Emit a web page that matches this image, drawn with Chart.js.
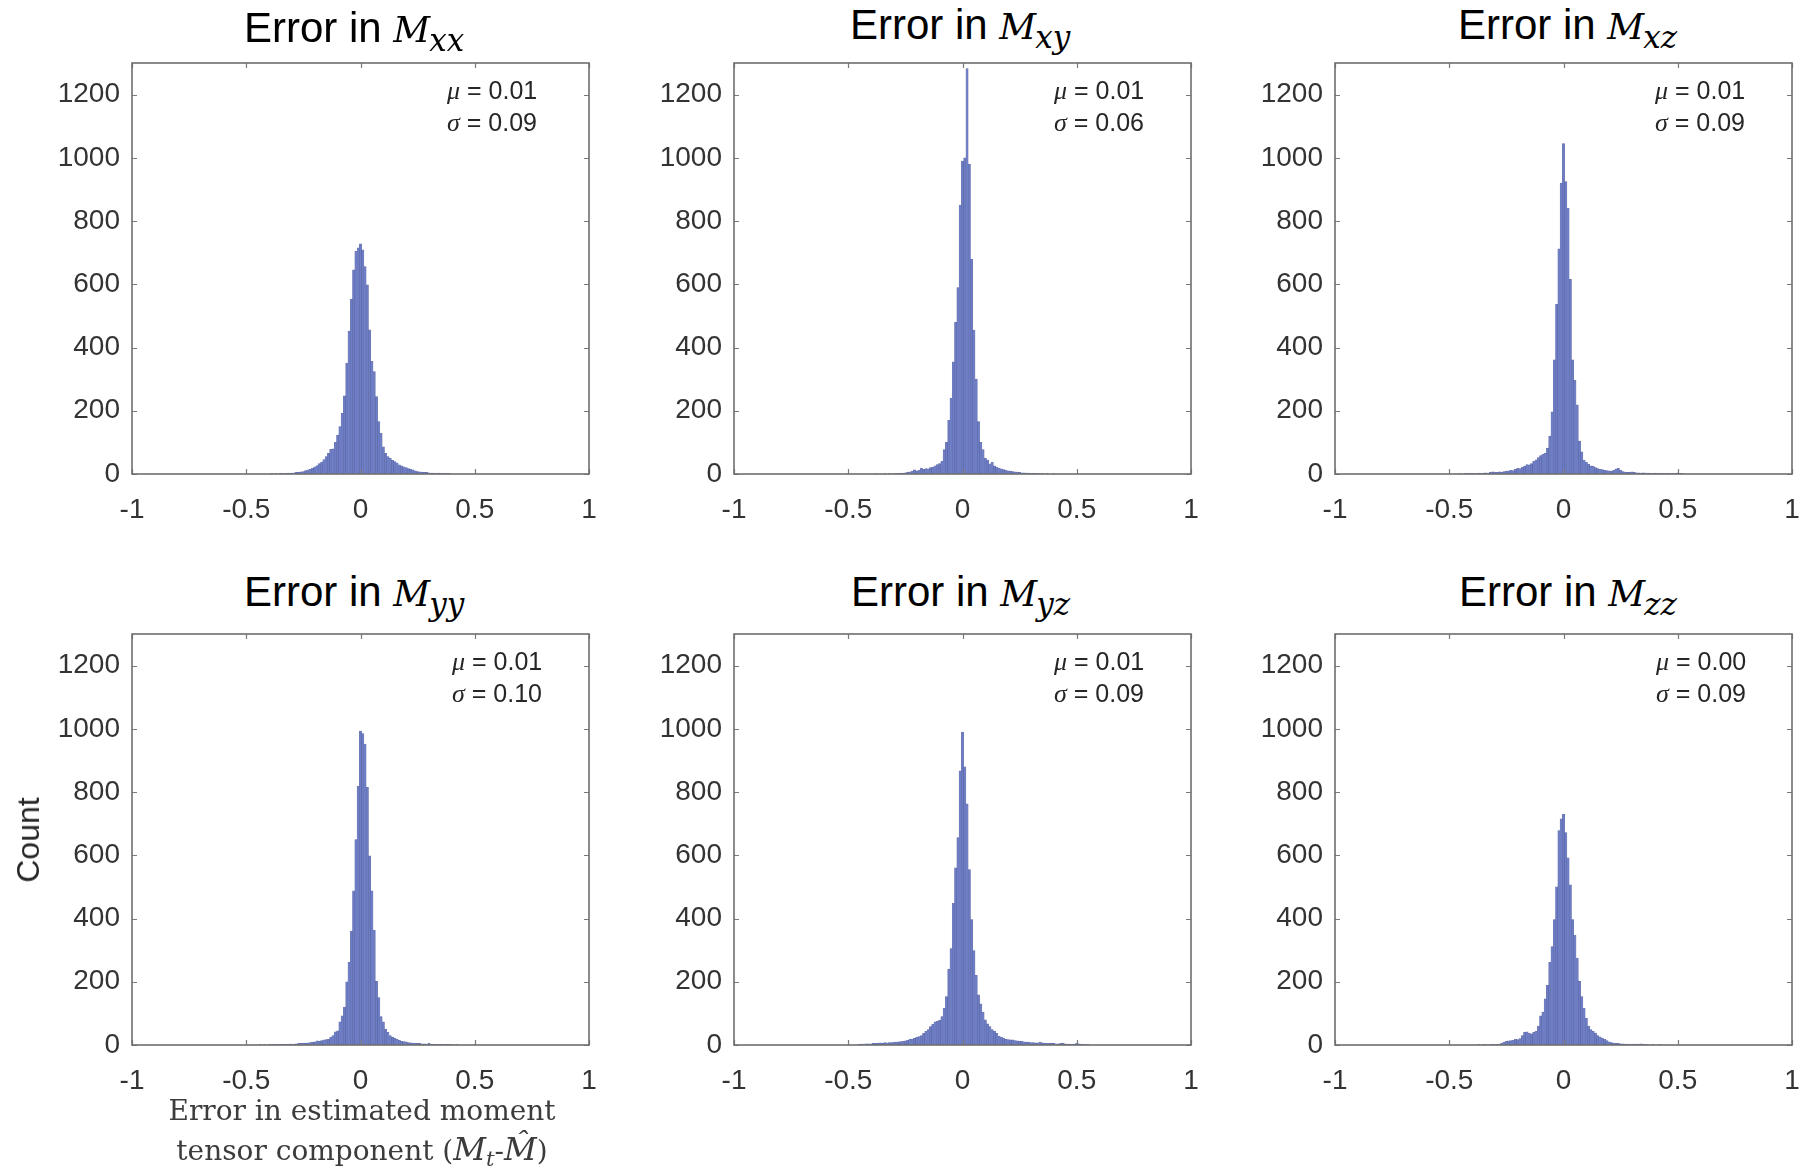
<!DOCTYPE html>
<html>
<head>
<meta charset="utf-8">
<script src="https://cdn.jsdelivr.net/npm/chart.js@4.4.0/dist/chart.umd.min.js"></script>
<style>
html,body{margin:0;padding:0;background:#fff;}
#root{position:relative;width:1803px;height:1167px;overflow:hidden;background:#fff;}
#root canvas{position:absolute;}
.title{position:absolute;white-space:nowrap;font-family:'Liberation Sans',Arial,sans-serif;font-size:42px;line-height:52px;color:#000;z-index:2;}
.title .m{font-family:'DejaVu Serif',serif;font-style:italic;font-size:36px;}
.title .s{font-family:'DejaVu Serif',serif;font-style:italic;font-size:31px;position:relative;top:9px;margin-left:-1px;}
.stat{position:absolute;white-space:nowrap;font-family:'Liberation Sans',Arial,sans-serif;font-size:25px;line-height:32px;color:#262626;z-index:2;}
.stat i{font-family:'Liberation Serif',serif;font-size:26px;}
.ylab{position:absolute;white-space:nowrap;font-family:'Liberation Sans',Arial,sans-serif;font-size:32px;line-height:40px;color:#262626;transform:translate(-50%,-50%) rotate(-90deg);z-index:2;}
.xlab{position:absolute;white-space:nowrap;font-family:'DejaVu Serif',serif;font-size:28px;line-height:40px;color:#3c3c3c;transform:translateX(-50%);z-index:2;}
.xlab i{font-style:italic;font-size:32px;}
.xlab .sub{font-style:italic;font-size:21px;position:relative;top:6px;}
</style>
</head>
<body>
<div id="root"></div>
<script>
// ---------------- DATA ----------------
const panelSubscripts = ['xx', 'xy', 'xz', 'yy', 'yz', 'zz'];
const muLabels = ['0.01', '0.01', '0.01', '0.01', '0.01', '0.00'];
const sigmaLabels = ['0.09', '0.06', '0.09', '0.10', '0.09', '0.09'];
const xTicks = [-1, -0.5, 0, 0.5, 1];
const xTickLabels = ['-1', '-0.5', '0', '0.5', '1'];
const yTicks = [0, 200, 400, 600, 800, 1000, 1200];
const yTickLabels = ['0', '200', '400', '600', '800', '1000', '1200'];
const yLabel = 'Count';
const xLabelLine1 = 'Error in estimated moment';

// histogram bins (width 0.01), centres from -0.45 to 0.55
const binCenters = Array.from({length: 101}, (_, i) => Math.round((-0.45 + 0.01 * i) * 100) / 100);

const countsMxx = [
  0,0,0,0,0,0,1,0,1,0,
  2,1,1,2,3,3,4,5,6,7,
  8,11,13,15,19,23,27,33,38,46,
  55,65,78,80,100,123,150,192,247,351,
  452,553,646,704,715,728,709,656,598,456,
  356,324,245,166,129,86,65,55,50,43,
  39,35,29,26,23,20,17,15,13,10,
  8,7,6,5,5,4,3,3,2,3,
  2,1,2,1,1,0,0,0,0,0,
  0,0,0,0,0,0,0,0,0,0,
  0
];
const countsMxy = [
  0,0,0,0,0,0,0,1,0,0,
  0,1,0,1,0,1,1,2,2,3,
  4,5,7,9,13,10,12,19,15,17,
  16,20,22,26,30,33,40,77,100,170,
  240,355,480,590,850,990,1000,1282,980,680,
  455,300,166,100,77,50,44,32,38,26,
  22,18,16,14,12,10,9,8,7,6,
  5,4,4,3,3,2,2,2,1,1,
  1,0,1,0,0,1,0,0,0,0,
  0,0,0,0,0,0,0,0,0,0,
  0
];
const countsMxz = [
  1,0,1,2,1,2,2,1,3,2,
  3,4,3,5,7,6,5,7,6,8,
  9,10,12,11,15,18,17,22,25,30,
  29,33,40,45,52,58,62,66,82,120,
  197,361,537,712,920,1045,925,840,616,361,
  296,219,104,70,44,38,31,26,24,20,
  17,15,14,12,11,10,9,12,16,18,
  12,8,6,5,5,7,5,4,4,3,
  4,3,3,2,2,3,2,1,2,1,
  1,2,1,1,2,4,2,1,0,0,
  0
];
const countsMyy = [
  0,1,0,1,0,1,1,1,1,2,
  1,2,2,2,3,3,3,4,5,5,
  6,6,7,8,9,10,13,12,14,16,
  17,18,25,30,42,45,73,92,120,200,
  262,360,488,650,818,993,985,952,815,598,
  488,363,201,150,90,73,50,40,30,25,
  22,18,15,12,11,10,8,7,6,6,
  5,5,4,4,3,5,3,2,2,1,
  2,1,1,2,1,1,0,1,0,0,
  0,0,0,0,0,1,0,0,0,0,
  0
];
const countsMyz = [
  2,3,3,4,4,4,5,5,6,7,
  6,8,7,8,8,9,9,10,11,12,
  13,15,18,19,21,24,27,30,37,43,
  49,58,65,73,75,79,90,116,153,240,
  305,448,560,656,867,990,880,763,555,397,
  299,220,159,130,104,80,67,58,49,43,
  37,28,25,22,18,17,16,16,14,13,
  12,12,10,9,9,8,8,7,7,9,
  7,6,5,5,6,5,4,4,5,6,
  4,3,3,2,3,5,4,2,1,1,
  1
];
const countsMzz = [
  0,0,0,0,0,0,0,0,1,0,
  1,1,0,1,2,1,2,3,6,9,
  12,13,14,15,18,17,20,30,40,42,
  38,35,40,43,60,92,104,146,189,262,
  311,397,500,678,715,730,672,592,507,397,
  348,275,201,153,116,85,60,49,43,38,
  30,26,22,18,14,10,8,6,6,5,
  4,4,3,3,2,2,3,2,3,4,
  2,1,1,0,1,0,0,1,0,0,
  0,0,0,0,0,0,0,0,0,0,
  0
];
const panelCounts = [countsMxx, countsMxy, countsMxz, countsMyy, countsMyz, countsMzz];

// ---------------- LAYOUT / STYLE ----------------
const colLeft = [132, 734, 1335];
const rowTop = [63, 634];
const plotW = 457, plotH = 411;
const padLeft = 110, padTop = 6, padRight = 10, padBottom = 55;
const titleLeft = [244, 850, 1458, 244, 851, 1459];
const titleBaseline = [43, 40, 40, 607, 607, 607];
const statOffsetX = [315, 320, 320, 320, 320, 321];

const root = document.getElementById('root');
Chart.defaults.font.family = "'Liberation Sans', Arial, sans-serif";

const boxPlugin = {
  id: 'matlabBox',
  afterDatasetsDraw(chart) {
    const {ctx, chartArea: a, scales: {x, y}} = chart;
    ctx.save();
    ctx.strokeStyle = '#7a7a7a';
    ctx.lineWidth = 1.2;
    ctx.beginPath();
    xTicks.forEach(v => {
      const px = Math.round(x.getPixelForValue(v)) + 0.5;
      ctx.moveTo(px, a.bottom); ctx.lineTo(px, a.bottom - 5);
      ctx.moveTo(px, a.top); ctx.lineTo(px, a.top + 5);
    });
    yTicks.forEach(v => {
      const py = Math.round(y.getPixelForValue(v)) + 0.5;
      ctx.moveTo(a.left, py); ctx.lineTo(a.left + 5, py);
      ctx.moveTo(a.right, py); ctx.lineTo(a.right - 5, py);
    });
    ctx.stroke();
    ctx.lineWidth = 1.6;
    ctx.strokeStyle = '#6e6e6e';
    ctx.strokeRect(a.left, a.top, a.right - a.left, a.bottom - a.top);
    ctx.restore();
  }
};

panelCounts.forEach((counts, i) => {
  const col = i % 3, row = Math.floor(i / 3);
  const L = colLeft[col], T = rowTop[row];
  const cw = padLeft + plotW + padRight, ch = padTop + plotH + padBottom;
  const canvas = document.createElement('canvas');
  canvas.width = cw; canvas.height = ch;
  canvas.style.left = (L - padLeft) + 'px';
  canvas.style.top = (T - padTop) + 'px';
  canvas.style.width = cw + 'px';
  canvas.style.height = ch + 'px';
  root.appendChild(canvas);

  const pts = [];
  binCenters.forEach((c, k) => { if (counts[k] > 0) pts.push({x: c, y: counts[k]}); });

  new Chart(canvas.getContext('2d'), {
    type: 'bar',
    data: {
      datasets: [{
        data: pts,
        backgroundColor: 'rgb(110,126,198)',
        borderColor: 'rgba(60,72,140,0.75)',
        borderWidth: 0.5,
        borderSkipped: 'start',
        barPercentage: 1.0,
        categoryPercentage: 1.0
      }]
    },
    options: {
      responsive: false,
      animation: false,
      devicePixelRatio: 1,
      layout: {padding: {left: 0, right: padRight, top: padTop, bottom: 0}},
      plugins: {legend: {display: false}, tooltip: {enabled: false}, title: {display: false}},
      scales: {
        x: {
          type: 'linear', min: -1, max: 1, offset: false,
          grid: {display: false, drawTicks: false},
          border: {display: false},
          afterBuildTicks: s => { s.ticks = xTicks.map(v => ({value: v})); },
          afterFit: s => { s.height = padBottom; s.paddingLeft = 0; s.paddingRight = 0; s.paddingTop = 0; s.paddingBottom = 0; },
          ticks: {
            autoSkip: false, maxRotation: 0, minRotation: 0, padding: 19,
            color: '#333333', font: {size: 28},
            callback: (v, idx) => xTickLabels[idx]
          }
        },
        y: {
          type: 'linear', min: 0, max: 1300,
          grid: {display: false, drawTicks: false},
          border: {display: false},
          afterBuildTicks: s => { s.ticks = yTicks.map(v => ({value: v})); },
          afterFit: s => { s.width = padLeft; s.paddingLeft = 0; s.paddingRight = 0; s.paddingTop = 0; s.paddingBottom = 0; },
          ticks: {
            padding: 12, color: '#333333', font: {size: 28},
            callback: (v, idx) => yTickLabels[idx]
          }
        }
      }
    },
    plugins: [boxPlugin]
  });

  // title
  const t = document.createElement('div');
  t.className = 'title';
  t.style.left = titleLeft[i] + 'px';
  t.style.top = (titleBaseline[i] - 40.6) + 'px';
  t.innerHTML = 'Error in <span class="m">M</span><span class="s">' + panelSubscripts[i] + '</span>';
  root.appendChild(t);

  // statistics annotations
  const muBase = T + 35, sigBase = T + 67;
  const mu = document.createElement('div');
  mu.className = 'stat';
  mu.style.left = (L + statOffsetX[i]) + 'px';
  mu.style.top = (muBase - 24.5) + 'px';
  mu.innerHTML = '<i>\u03BC</i> = ' + muLabels[i];
  root.appendChild(mu);
  const sg = document.createElement('div');
  sg.className = 'stat';
  sg.style.left = (L + statOffsetX[i]) + 'px';
  sg.style.top = (sigBase - 24.5) + 'px';
  sg.innerHTML = '<i>\u03C3</i> = ' + sigmaLabels[i];
  root.appendChild(sg);
});

// axis labels
const yl = document.createElement('div');
yl.className = 'ylab';
yl.style.left = '28px';
yl.style.top = '840px';
yl.textContent = yLabel;
root.appendChild(yl);

const xl1 = document.createElement('div');
xl1.className = 'xlab';
xl1.style.left = '362px';
xl1.style.top = (1121 - 29.7) + 'px';
xl1.textContent = xLabelLine1;
root.appendChild(xl1);

const xl2 = document.createElement('div');
xl2.className = 'xlab';
xl2.style.left = '362px';
xl2.style.top = (1162 - 33.5) + 'px';
xl2.innerHTML = 'tensor component (<i>M</i><span class="sub">t</span>-<i>M\u0302</i>)';
root.appendChild(xl2);
</script>
</body>
</html>
